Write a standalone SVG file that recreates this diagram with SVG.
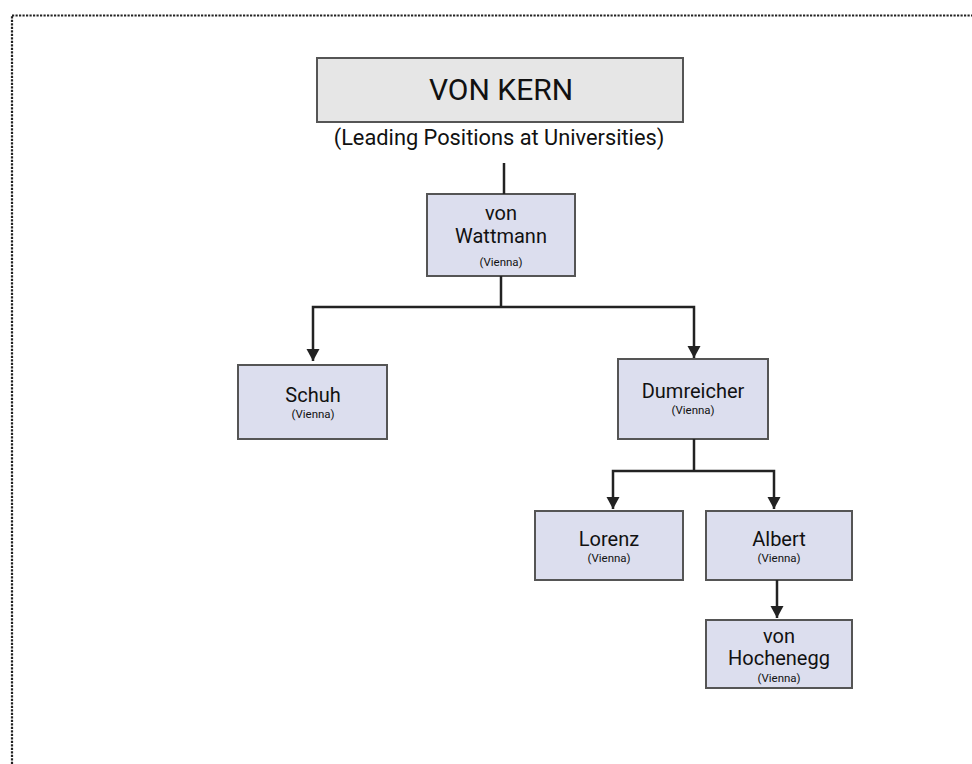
<svg xmlns="http://www.w3.org/2000/svg" width="972" height="764" viewBox="0 0 972 764">
<defs>
<marker id="arr" markerUnits="userSpaceOnUse" markerWidth="14" markerHeight="14" refX="12" refY="6.5" orient="auto">
<path d="M0,0 L12,6.5 L0,13 Z" fill="#222"/>
</marker>
<style>
.frame{fill:none;stroke:#222;stroke-width:2.2;stroke-dasharray:2.2 1.3}
.box{fill:#dcdeee;stroke:#555;stroke-width:2}
.top{fill:#e6e6e6;stroke:#555;stroke-width:2}
.ln{fill:none;stroke:#222;stroke-width:2.5}
.t{font-family:Roboto,"Liberation Sans",sans-serif;fill:#111;text-anchor:middle}
.name{font-size:20px}
.sm{font-size:11.5px}
</style>
</defs>
<rect class="frame" x="12" y="15.5" width="990" height="800"/>
<g id="vonkern">
<rect class="top" x="317" y="58" width="366" height="64"/>
<text class="t" x="501" y="100" font-size="30">VON KERN</text>
<text class="t" x="499" y="145" font-size="21.8">(Leading Positions at Universities)</text>
</g>
<g id="wattmann">
<rect class="box" x="427" y="194" width="148" height="82"/>
<text class="t name" x="501" y="220">von</text>
<text class="t name" x="501" y="243">Wattmann</text>
<text class="t sm" x="501" y="266">(Vienna)</text>
</g>
<g id="schuh">
<rect class="box" x="238" y="365" width="149" height="74"/>
<text class="t name" x="313" y="402">Schuh</text>
<text class="t sm" x="313" y="418">(Vienna)</text>
</g>
<g id="dumreicher">
<rect class="box" x="618" y="359" width="150" height="80"/>
<text class="t name" x="693" y="398">Dumreicher</text>
<text class="t sm" x="693" y="414">(Vienna)</text>
</g>
<g id="lorenz">
<rect class="box" x="535" y="511" width="148" height="69"/>
<text class="t name" x="609" y="546">Lorenz</text>
<text class="t sm" x="609" y="562">(Vienna)</text>
</g>
<g id="albert">
<rect class="box" x="706" y="511" width="146" height="69"/>
<text class="t name" x="779" y="546">Albert</text>
<text class="t sm" x="779" y="562">(Vienna)</text>
</g>
<g id="hochenegg">
<rect class="box" x="706" y="620" width="146" height="68"/>
<text class="t name" x="779" y="643">von</text>
<text class="t name" x="779" y="665">Hochenegg</text>
<text class="t sm" x="779" y="682">(Vienna)</text>
</g>
<g id="connectors">
<path class="ln" d="M504,163 V194"/>
<path class="ln" d="M501,276 V307"/>
<path class="ln" d="M501,307 H313 V361" marker-end="url(#arr)"/>
<path class="ln" d="M501,307 H694 V358" marker-end="url(#arr)"/>
<path class="ln" d="M694,439 V471"/>
<path class="ln" d="M694,471 H613 V509" marker-end="url(#arr)"/>
<path class="ln" d="M694,471 H774 V509" marker-end="url(#arr)"/>
<path class="ln" d="M777,580 V618" marker-end="url(#arr)"/>
</g>
</svg>
